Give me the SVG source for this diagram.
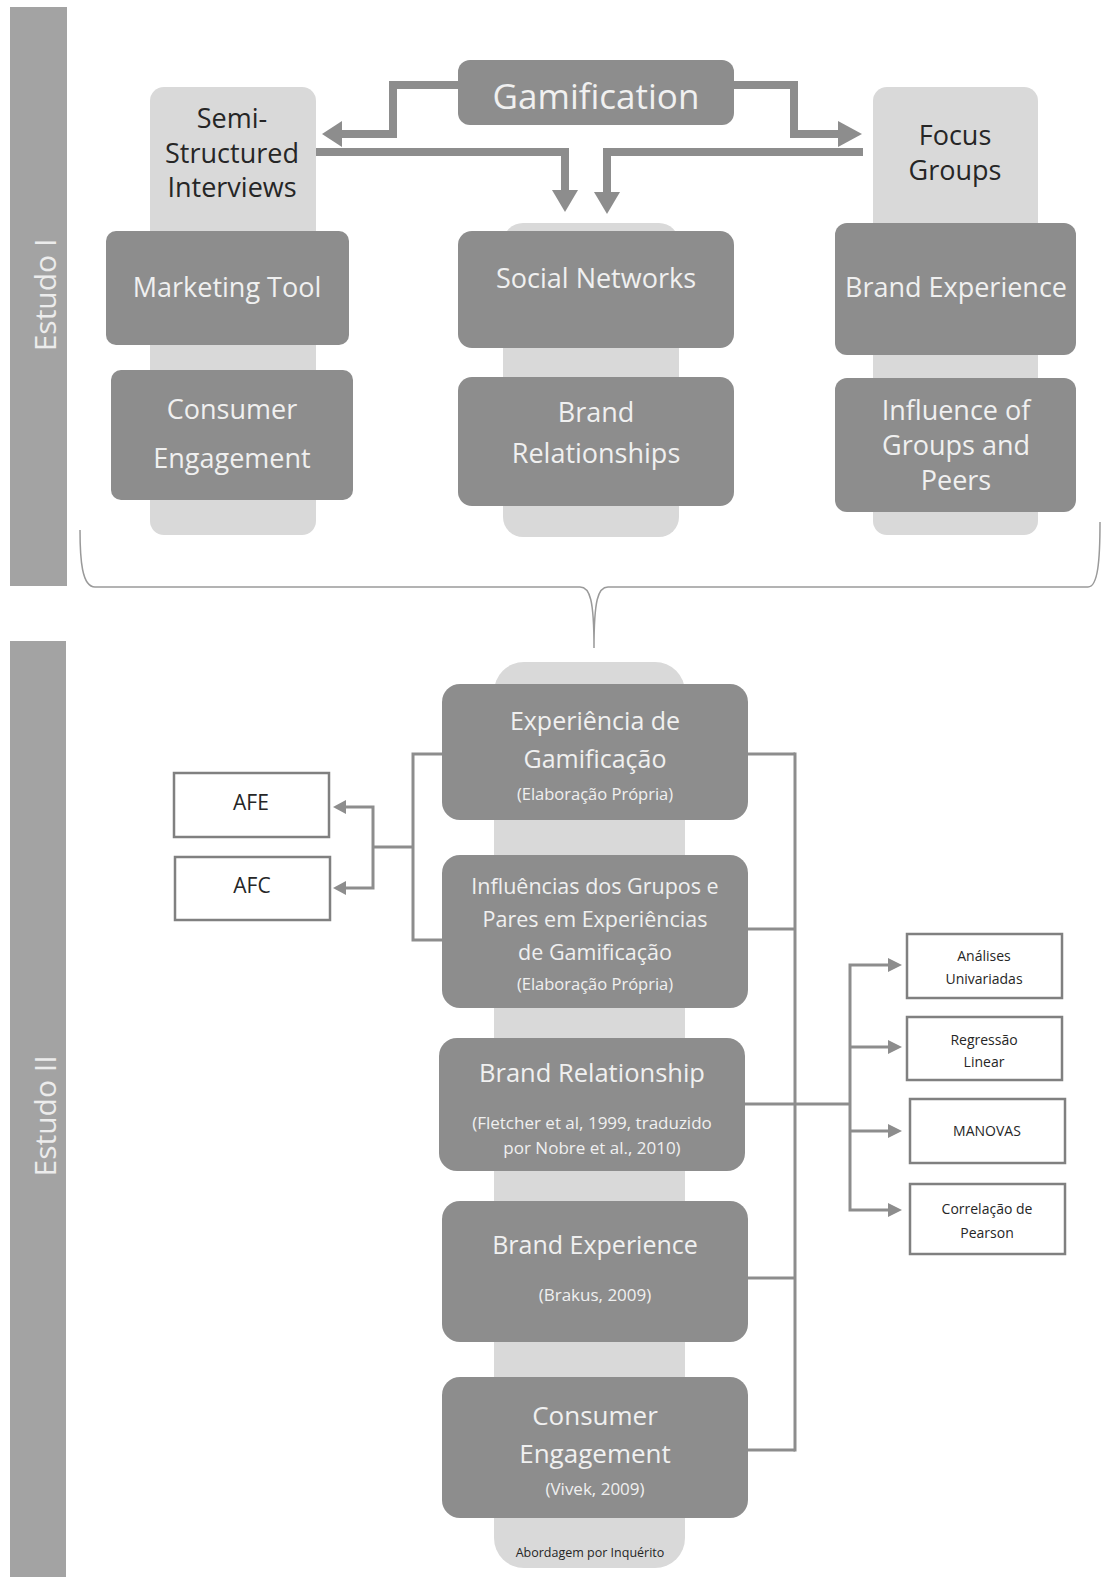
<svg xmlns="http://www.w3.org/2000/svg" width="1105" height="1577" viewBox="0 0 1105 1577">
<defs>
<style>
.bar{fill:#a3a3a3}
.col{fill:#d9d9d9}
.box{fill:#8d8d8d}
.wb{fill:#ffffff;stroke:#808080;stroke-width:2.5}
.t{font-family:"Open Sans","Noto Sans",sans-serif;text-anchor:middle}
.lt{fill:#f0f0f0}
.dk{fill:#262626}
.side{font-family:"Open Sans","Noto Sans",sans-serif;font-size:30px;fill:#ececec;text-anchor:middle}
.thick{fill:none;stroke:#8d8d8d;stroke-width:8}
.thin{fill:none;stroke:#8d8d8d;stroke-width:3}
.ah{fill:#8d8d8d}
</style>
</defs>
<rect width="1105" height="1577" fill="#ffffff"/>

<g id="estudo1">
<rect class="bar" x="10" y="7" width="57" height="579"/>
<text class="side" transform="translate(56,295) rotate(-90)">Estudo I</text>
</g>
<g id="estudo2">
<rect class="bar" x="10" y="641" width="56" height="936"/>
<text class="side" transform="translate(56,1116) rotate(-90)">Estudo II</text>
</g>

<g id="col-semi">
<rect class="col" x="150" y="87" width="166" height="448" rx="14"/>
<text class="t dk" font-size="27" x="232" y="128">Semi-</text>
<text class="t dk" font-size="27" x="232" y="163">Structured</text>
<text class="t dk" font-size="27" x="232" y="197">Interviews</text>
</g>
<g id="col-center-top">
<rect class="col" x="503" y="223" width="176" height="314" rx="20"/>
</g>
<g id="col-focus">
<rect class="col" x="873" y="87" width="165" height="448" rx="14"/>
<text class="t dk" font-size="27" x="955" y="145">Focus</text>
<text class="t dk" font-size="27" x="955" y="180">Groups</text>
</g>

<g id="gamification">
<rect class="box" x="458" y="60" width="276" height="65" rx="12"/>
<text class="t lt" font-size="35" x="596" y="109">Gamification</text>
</g>
<g id="marketing-tool">
<rect class="box" x="106" y="231" width="243" height="114" rx="10"/>
<text class="t lt" font-size="27" x="227" y="297">Marketing Tool</text>
</g>
<g id="consumer-engagement-1">
<rect class="box" x="111" y="370" width="242" height="130" rx="10"/>
<text class="t lt" font-size="27" x="232" y="419">Consumer</text>
<text class="t lt" font-size="27" x="232" y="468">Engagement</text>
</g>
<g id="social-networks">
<rect class="box" x="458" y="231" width="276" height="117" rx="14"/>
<text class="t lt" font-size="27" x="596" y="288">Social Networks</text>
</g>
<g id="brand-relationships">
<rect class="box" x="458" y="377" width="276" height="129" rx="14"/>
<text class="t lt" font-size="27" x="596" y="422">Brand</text>
<text class="t lt" font-size="27" x="596" y="463">Relationships</text>
</g>
<g id="brand-experience-1">
<rect class="box" x="835" y="223" width="241" height="132" rx="12"/>
<text class="t lt" font-size="27" x="956" y="297">Brand Experience</text>
</g>
<g id="influence">
<rect class="box" x="835" y="378" width="241" height="134" rx="12"/>
<text class="t lt" font-size="27" x="956" y="420">Influence of</text>
<text class="t lt" font-size="27" x="956" y="455">Groups and</text>
<text class="t lt" font-size="27" x="956" y="490">Peers</text>
</g>

<g id="col-center-bottom">
<rect class="col" x="494" y="662" width="191" height="906" rx="30"/>
<text class="t dk" font-size="12.5" x="590" y="1557">Abordagem por Inquérito</text>
</g>
<g id="experiencia">
<rect class="box" x="442" y="684" width="306" height="136" rx="18"/>
<text class="t lt" font-size="25" x="595" y="730">Experiência de</text>
<text class="t lt" font-size="25" x="595" y="768">Gamificação</text>
<text class="t lt" font-size="16.5" x="595" y="800">(Elaboração Própria)</text>
</g>
<g id="influencias">
<rect class="box" x="442" y="855" width="306" height="153" rx="18"/>
<text class="t lt" font-size="21.5" x="595" y="894">Influências dos Grupos e</text>
<text class="t lt" font-size="21.5" x="595" y="927">Pares em Experiências</text>
<text class="t lt" font-size="21.5" x="595" y="960">de Gamificação</text>
<text class="t lt" font-size="16.5" x="595" y="990">(Elaboração Própria)</text>
</g>
<g id="brand-relationship">
<rect class="box" x="439" y="1038" width="306" height="133" rx="18"/>
<text class="t lt" font-size="25.5" x="592" y="1082">Brand Relationship</text>
<text class="t lt" font-size="17" x="592" y="1129">(Fletcher et al, 1999, traduzido</text>
<text class="t lt" font-size="17" x="592" y="1154">por Nobre et al., 2010)</text>
</g>
<g id="brand-experience-2">
<rect class="box" x="442" y="1201" width="306" height="141" rx="18"/>
<text class="t lt" font-size="25" x="595" y="1254">Brand Experience</text>
<text class="t lt" font-size="17" x="595" y="1301">(Brakus, 2009)</text>
</g>
<g id="consumer-engagement-2">
<rect class="box" x="442" y="1377" width="306" height="141" rx="18"/>
<text class="t lt" font-size="26" x="595" y="1425">Consumer</text>
<text class="t lt" font-size="26" x="595" y="1463">Engagement</text>
<text class="t lt" font-size="17" x="595" y="1495">(Vivek, 2009)</text>
</g>

<g id="afe">
<rect class="wb" x="174" y="773" width="155" height="64"/>
<text class="t dk" font-size="21" x="251" y="810">AFE</text>
</g>
<g id="afc">
<rect class="wb" x="175" y="857" width="155" height="63"/>
<text class="t dk" font-size="21" x="252" y="893">AFC</text>
</g>
<g id="analises">
<rect class="wb" x="907" y="934" width="155" height="64"/>
<text class="t dk" font-size="14" x="984" y="961">Análises</text>
<text class="t dk" font-size="14" x="984" y="984">Univariadas</text>
</g>
<g id="regressao">
<rect class="wb" x="907" y="1017" width="155" height="63"/>
<text class="t dk" font-size="14" x="984" y="1045">Regressão</text>
<text class="t dk" font-size="14" x="984" y="1067">Linear</text>
</g>
<g id="manovas">
<rect class="wb" x="910" y="1099" width="155" height="64"/>
<text class="t dk" font-size="14" x="987" y="1136">MANOVAS</text>
</g>
<g id="correlacao">
<rect class="wb" x="910" y="1184" width="155" height="70"/>
<text class="t dk" font-size="14" x="987" y="1214">Correlação de</text>
<text class="t dk" font-size="14" x="987" y="1238">Pearson</text>
</g>

<g id="connectors">
<polyline class="thick" points="458,85 393,85 393,134 340,134"/>
<polygon class="ah" points="322,134 342,121 342,147"/>
<polyline class="thick" points="316,152 565,152 565,192"/>
<polygon class="ah" points="565,212 552,190 578,190"/>
<polyline class="thick" points="734,85 794,85 794,134 840,134"/>
<polygon class="ah" points="862,134 838,121 838,147"/>
<polyline class="thick" points="863,152 607,152 607,194"/>
<polygon class="ah" points="607,214 594,192 620,192"/>
<path d="M80,530 C80,560 82,587 95,587 L580,587 C590,587 594,600 594,648 C594,600 598,587 608,587 L1088,587 C1098,587 1100,560 1100,522" fill="none" stroke="#9a9a9a" stroke-width="1.5"/>
<polyline class="thin" points="442,754 413,754 413,940 442,940"/>
<line class="thin" x1="413" y1="847" x2="373" y2="847"/>
<polyline class="thin" points="345,807 373,807 373,888 345,888"/>
<polygon class="ah" points="333,807 346,800 346,814"/>
<polygon class="ah" points="333,888 346,881 346,895"/>
<line class="thin" x1="748" y1="754" x2="795" y2="754"/>
<line class="thin" x1="748" y1="929" x2="795" y2="929"/>
<line class="thin" x1="745" y1="1104" x2="850" y2="1104"/>
<line class="thin" x1="748" y1="1278" x2="795" y2="1278"/>
<line class="thin" x1="748" y1="1450" x2="795" y2="1450"/>
<line class="thin" x1="795" y1="752.5" x2="795" y2="1451.5"/>
<polyline class="thin" points="890,965 850,965 850,1210 890,1210"/>
<line class="thin" x1="850" y1="1047" x2="890" y2="1047"/>
<line class="thin" x1="850" y1="1131" x2="890" y2="1131"/>
<polygon class="ah" points="902,965 888,958 888,972"/>
<polygon class="ah" points="902,1047 888,1040 888,1054"/>
<polygon class="ah" points="902,1131 888,1124 888,1138"/>
<polygon class="ah" points="902,1210 888,1203 888,1217"/>
</g>
</svg>
